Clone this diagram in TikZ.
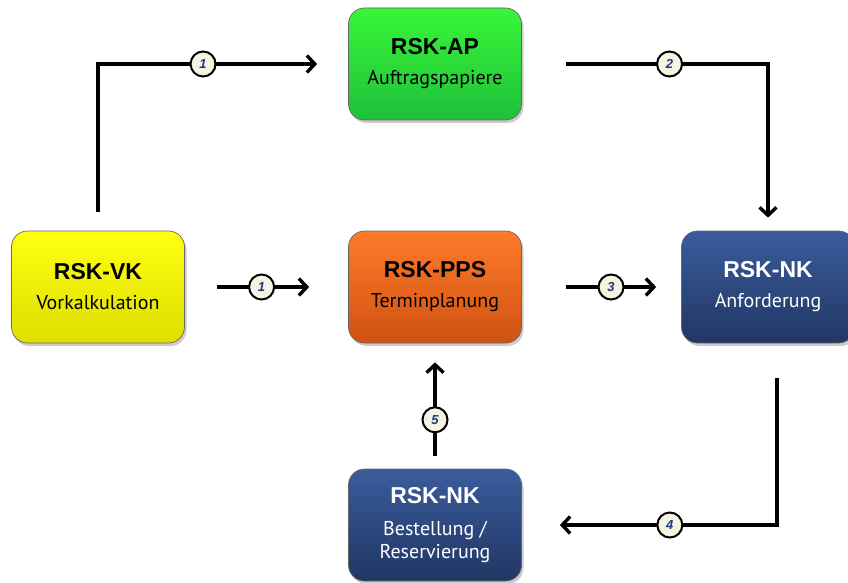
\documentclass[tikz,border=0pt]{standalone}
\usepackage{fontspec}
\setmainfont{Liberation Sans}
\newfontfamily\subfont{PT Sans}
\usetikzlibrary{arrows.meta,shadows}

\definecolor{vktop}{HTML}{FFFF10}
\definecolor{vkbot}{HTML}{DEDE00}
\definecolor{aptop}{HTML}{38F638}
\definecolor{apbot}{HTML}{1FC03A}
\definecolor{ppstop}{HTML}{FF7B2A}
\definecolor{ppsbot}{HTML}{D05212}
\definecolor{nktop}{HTML}{3A5C9C}
\definecolor{nkbot}{HTML}{213664}
\definecolor{numfill}{HTML}{F7F3E3}
\definecolor{numblue}{HTML}{1F3A78}

\newcommand\boxtitle[1]{{\rmfamily\bfseries\fontsize{23}{26}\selectfont #1}}

\begin{document}
\begin{tikzpicture}[x=1pt,y=-1pt,
  box/.style={draw=black!60, line width=0.7pt, rounded corners=16pt,
    minimum width=173pt, minimum height=112pt, align=center,
    font=\subfont\fontsize{20}{24}\selectfont,
    drop shadow={shadow xshift=2pt, shadow yshift=-3pt, opacity=0.4}},
  flow/.style={line width=3.4pt, -{Straight Barb[length=8pt,width=17pt,line width=3.4pt]}},
  num/.style={circle, draw, line width=2pt, fill=numfill, minimum size=25pt,
    inner sep=0pt, text=numblue, font=\bfseries\itshape\fontsize{13}{13}\selectfont}]
  \useasboundingbox (0,0) rectangle (848,583);

  % Boxes
  \node[box, top color=vktop, bottom color=vkbot] (vk) at (98,287)
    {\boxtitle{RSK-VK}\\[6pt]Vorkalkulation};
  \node[box, top color=aptop, bottom color=apbot] (ap) at (435,64)
    {\boxtitle{RSK-AP}\\[6pt]Auftragspapiere};
  \node[box, top color=ppstop, bottom color=ppsbot] (pps) at (435,287)
    {\boxtitle{RSK-PPS}\\[6pt]Terminplanung};
  \node[box, top color=nktop, bottom color=nkbot, text=white] (nk) at (768,287)
    {\boxtitle{RSK-NK}\\[6pt]Anforderung};
  \node[box, top color=nktop, bottom color=nkbot, text=white] (nkb) at (435,525)
    {\boxtitle{RSK-NK}\\[8pt]Bestellung /\\[-1pt]Reservierung};

  % Flows
  \draw[flow, shorten <=19pt, shorten >=31pt] (vk.north) |- (ap.west)
    node[num, pos=0.71] (n1a) {1};
  \draw[flow, shorten <=44pt, shorten >=13pt] (ap.east) -| (nk.north)
    node[num, pos=0.3] (n2) {2};
  \draw[flow, shorten <=32pt, shorten >=39pt] (vk.east) -- (pps.west)
    node[num, pos=0.47] (n1b) {1};
  \draw[flow, shorten <=44pt, shorten >=25pt] (pps.east) -- (nk.west)
    node[num, pos=0.56] (n3) {3};
  \draw[flow, shorten <=35pt, shorten >=38pt] ([xshift=9pt]nk.south) |- (nkb.east)
    node[num, pos=0.71] (n4) {4};
  \draw[flow, shorten <=13pt, shorten >=19pt] (nkb.north) -- (pps.south)
    node[num, pos=0.39] (n5) {5};
\end{tikzpicture}
\end{document}
